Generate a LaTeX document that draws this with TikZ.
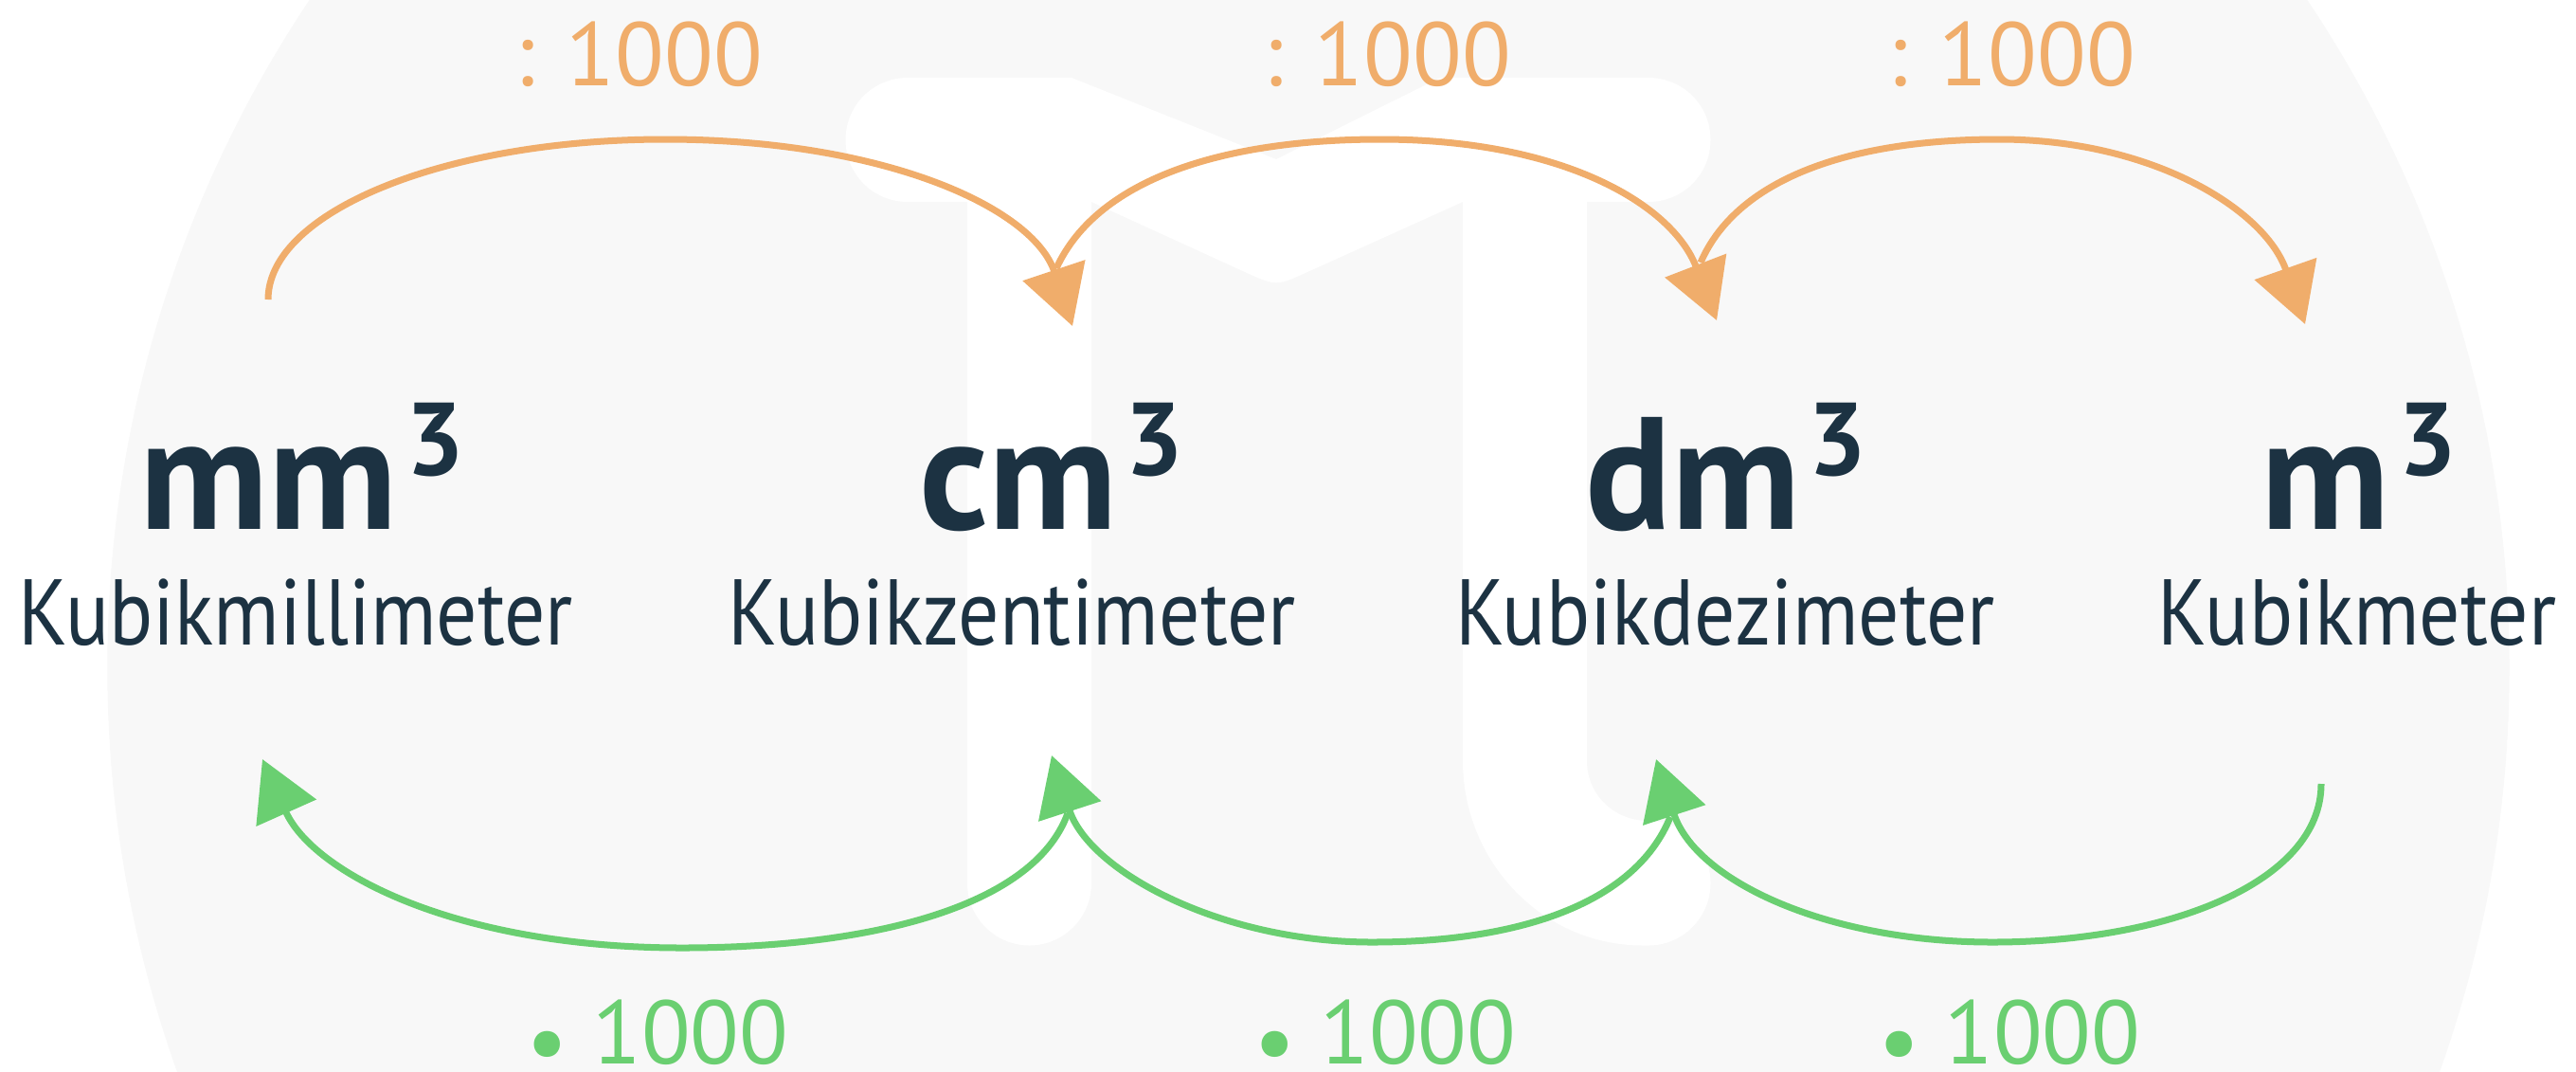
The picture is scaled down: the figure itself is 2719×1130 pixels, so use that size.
\documentclass[tikz,border=0pt]{standalone}
\usepackage{fontspec}
\setmainfont{PT Sans}
\newfontfamily\namefont[FakeStretch=0.87]{PT Sans}
\usetikzlibrary{arrows.meta}
\definecolor{bgc}{HTML}{F8F8F8}
\definecolor{org}{HTML}{F0AD6B}
\definecolor{grn}{HTML}{6ACF71}
\definecolor{ink}{HTML}{1C3242}
\newcommand\cub{\kern2.5pt\raisebox{16pt}{\fontsize{31pt}{31pt}\selectfont 3}}
\newcommand\mdot{\raisebox{-3pt}{\fontsize{28pt}{28pt}\selectfont •}}
\tikzset{
  conv/.style={line width=0.07cm, -{Triangle[length=0.62cm,width=0.68cm]}},
  divarrow/.style={conv, draw=org},
  mularrow/.style={conv, draw=grn},
  unitlbl/.style={font=\fontsize{48pt}{48pt}\selectfont\bfseries, text=ink, inner sep=0, anchor=base},
  namelbl/.style={font=\namefont\fontsize{28pt}{28pt}\selectfont, text=ink, inner sep=0, anchor=base},
  factor/.style={font=\fontsize{27pt}{27pt}\selectfont, inner sep=0, anchor=base},
}
\begin{document}
\begin{tikzpicture}[x=0.01cm,y=-0.01cm]
\useasboundingbox (0,0) rectangle (2719,1130);
\begin{scope}
  \clip (0,0) rectangle (2719,1130);
  \fill[bgc] (1381,704) circle[radius=12.67cm];
  % pi logo
  \fill[white] (958,82) -- (1131,82) -- (1347,168) -- (1520,82) -- (1740,82)
    .. controls (1776,82) and (1805.5,111) .. (1805.5,147.5)
    .. controls (1805.5,184) and (1776,213) .. (1740,213)
    -- (1544,213) -- (1380,287) .. controls (1347,302) .. (1314,287) -- (1152,213) -- (958,213)
    .. controls (922,213) and (892.5,184) .. (892.5,147.5)
    .. controls (892.5,111) and (922,82) .. (958,82) -- cycle;
  \fill[white] (1021,200) -- (1021,932)
    .. controls (1021,968) and (1050.5,997.5) .. (1086.5,997.5)
    .. controls (1122.5,997.5) and (1152,968) .. (1152,932) -- (1152,200) -- cycle;
  \fill[white] (1544,200) -- (1544,803)
    .. controls (1544,908) and (1627,997.5) .. (1734,997.5) -- (1740,997.5)
    .. controls (1776,997.5) and (1805.5,968) .. (1805.5,931.5)
    .. controls (1805.5,895) and (1776,866) .. (1740,866)
    .. controls (1703,866) and (1675,838) .. (1675,803) -- (1675,200) -- cycle;
\end{scope}

% unit labels
\node[unitlbl] (mm) at (319,558) {mm\cub};
\node[unitlbl] (cm) at (1110,558) {cm\cub};
\node[unitlbl] (dm) at (1822,558) {dm\cub};
\node[unitlbl] (m) at (2490,558) {m\cub};
\node[namelbl] (mmname) at (312,680) {Kubikmillimeter};
\node[namelbl] (cmname) at (1068,680) {Kubikzentimeter};
\node[namelbl] (dmname) at (1821,680) {Kubikdezimeter};
\node[namelbl] (mname) at (2488,680) {Kubikmeter};

% factor labels
\node[factor, text=org] (div1) at (674,90) {: 1000};
\node[factor, text=org] (div2) at (1464,90) {: 1000};
\node[factor, text=org] (div3) at (2123,90) {: 1000};
\node[factor, text=grn] (mul1) at (694,1122) {\mdot\ 1000};
\node[factor, text=grn] (mul2) at (1462,1122) {\mdot\ 1000};
\node[factor, text=grn] (mul3) at (2121,1122) {\mdot\ 1000};

% connector end points
\coordinate (mmtop) at (283,316);
\coordinate (cmtopin) at (1132,344);
\coordinate (cmtopout) at (1115,283);
\coordinate (dmtopin) at (1812,338);
\coordinate (dmtopout) at (1795,277);
\coordinate (mtopin) at (2433,342);
\coordinate (mbot) at (2450,827);
\coordinate (dmbotin) at (1748,801);
\coordinate (dmbotout) at (1763,862);
\coordinate (cmbotin) at (1110,797);
\coordinate (cmbotout) at (1127,858);
\coordinate (mmbotin) at (277,801);

% division arrows
\draw[divarrow] (mmtop) .. controls (283,223) and (471,147) .. (702,147)
  .. controls (930,147) and (1090,218) .. (cmtopin);
\draw[divarrow] (cmtopout) .. controls (1160,185) and (1300,147) .. (1457,147)
  .. controls (1650,147) and (1765,216) .. (dmtopin);
\draw[divarrow] (dmtopout) .. controls (1835,185) and (1960,147) .. (2110,147)
  .. controls (2270,147) and (2390,220) .. (mtopin);

% multiplication arrows
\draw[mularrow] (cmbotout) .. controls (1090,960) and (910,1000) .. (720,1000)
  .. controls (480,1000) and (330,920) .. (mmbotin);
\draw[mularrow] (dmbotout) .. controls (1725,955) and (1600,994) .. (1448,994)
  .. controls (1290,994) and (1150,920) .. (cmbotin);
\draw[mularrow] (mbot) .. controls (2450,930) and (2290,994) .. (2103,994)
  .. controls (1930,994) and (1790,930) .. (dmbotin);
\end{tikzpicture}
\end{document}
